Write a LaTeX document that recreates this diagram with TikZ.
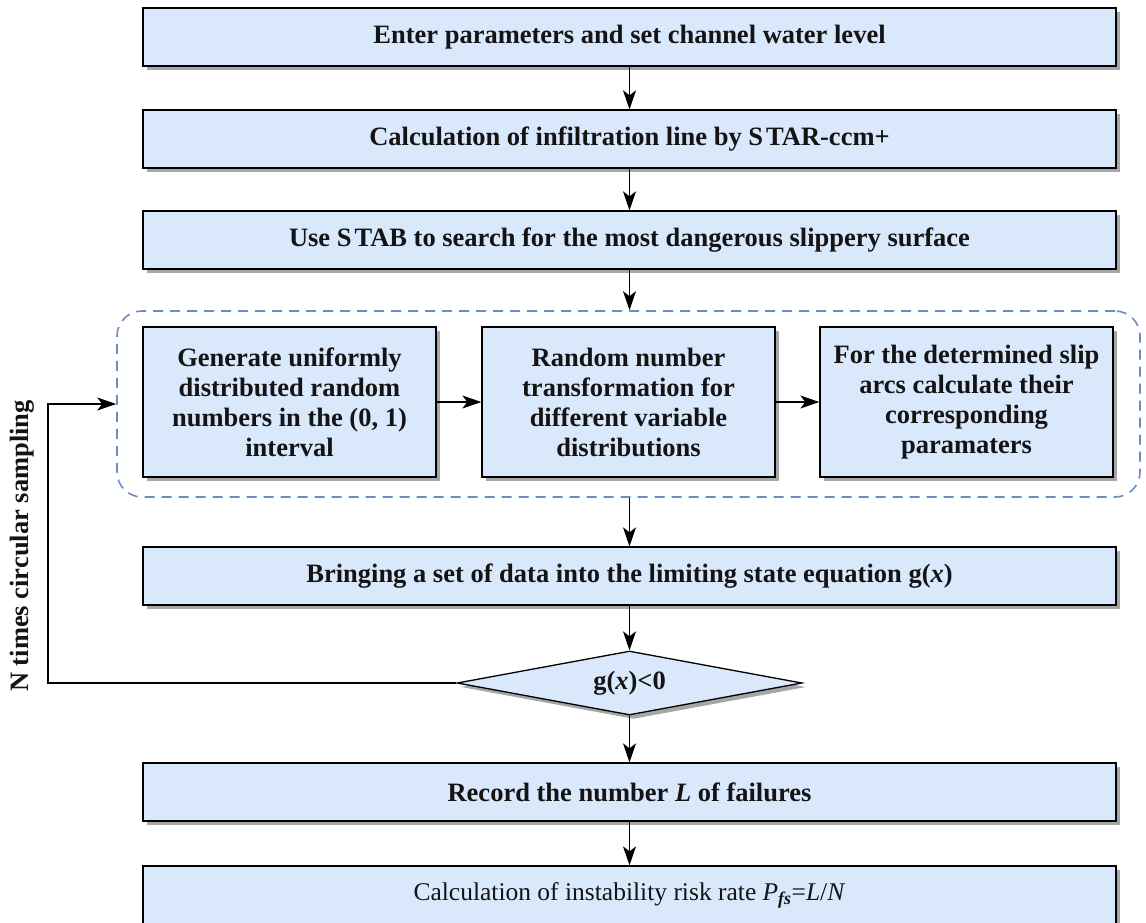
\documentclass[tikz,border=0pt]{standalone}
\usepackage{fontspec}
\setmainfont{Liberation Serif}
\usetikzlibrary{shapes.geometric,arrows.meta,shadows}
\definecolor{boxfill}{RGB}{218,232,252}
\definecolor{dashblue}{RGB}{108,142,191}
\definecolor{txt}{RGB}{20,20,20}
\begin{document}
\begin{tikzpicture}[x=1pt,y=1pt,
  every node/.style={text=txt},
  box/.style={draw=black,line width=1.3pt,fill=boxfill,
    font=\fontsize{26.5}{30}\selectfont\bfseries,align=center,inner sep=0pt,
    drop shadow={shadow xshift=4pt,shadow yshift=-4pt,fill=black!35,opacity=1}},
  wide/.style={box,minimum width=973pt,minimum height=58pt},
  small/.style={box,minimum width=293pt,minimum height=150pt},
  decision/.style={box,diamond,aspect=5.4,minimum width=345pt,minimum height=64pt},
  group/.style={draw=dashblue,line width=1.6pt,dash pattern=on 10pt off 7pt,
    rounded corners=25pt,minimum width=1023pt,minimum height=186pt,inner sep=0pt},
  arr/.style={-{Stealth[length=19pt,width=13pt,inset=5pt]},line width=1.3pt}]
\useasboundingbox (0,0) rectangle (1146,-922);
\clip (0,0) rectangle (1146,-922);

\node[wide] (b1) at (629.5,-37) {Enter parameters and set channel water level};
\node[wide] (b2) at (629.5,-139) {Calculation of infiltration line by S\kern3pt TAR-ccm+};
\node[wide] (b3) at (629.5,-240) {Use S\kern3pt TAB to search for the most dangerous slippery surface};

\node[group] (grp) at (628.5,-404) {};
\node[small] (sa) at (289.5,-402) {Generate uniformly\\distributed random\\numbers in the (0, 1)\\interval};
\node[small] (sb) at (628.5,-402) {Random number\\transformation for\\different variable\\distributions};
\node[small] (sc) at (966.5,-402) {For the determined slip\\arcs calculate their\\corresponding\\paramaters};

\node[wide] (b4) at (629.5,-576) {Bringing a set of data into the limiting state equation g(\textit{x})};
\node[decision] (d) at (629.5,-683) {g(\textit{x})<0};
\node[wide] (b5) at (629.5,-792) {Record the number \textit{L} of failures};
\node[wide,font=\fontsize{25.5}{30}\selectfont] (b6) at (629.5,-895) {Calculation of instability risk rate \textit{P}\textsubscript{\textit{\bfseries fs}}=\textit{L}/\textit{N}};

\node[rotate=90,font=\fontsize{26.5}{30}\selectfont\bfseries] (lab) at (22,-546) {N times circular sampling};

\coordinate (lc) at (48,-683);

\draw[arr] (b1) -- (b2);
\draw[arr] (b2) -- (b3);
\draw[arr] (b3.south) -- (b3.south |- grp.north);
\draw[arr] (sa) -- (sb);
\draw[arr] (sb) -- (sc);
\draw[arr] (b4.north |- grp.south) -- (b4.north);
\draw[arr] (b4) -- (d);
\draw[arr] (d) -- (b5);
\draw[arr] (b5) -- (b6);
\draw[arr] (d.west) -- (lc) |- (grp.west);
\end{tikzpicture}
\end{document}
